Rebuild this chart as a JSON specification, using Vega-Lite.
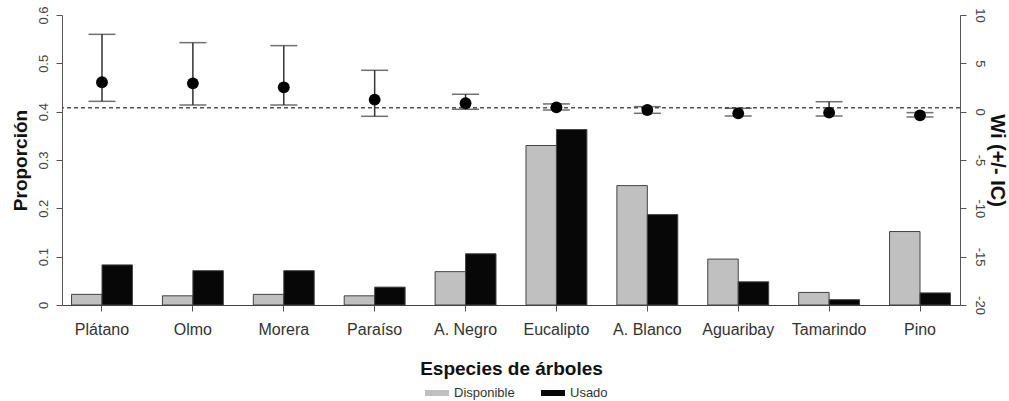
{
  "$schema": "https://vega.github.io/schema/vega-lite/v6.json",
  "width": 898,
  "height": 290,
  "autosize": {"type": "none"},
  "padding": {"left": 62, "top": 15, "right": 49, "bottom": 96},
  "background": "white",
  "config": {"view": {"stroke": null}, "font": "Liberation Sans"},
  "datasets": {
    "bars": [
      {"especie": "Plátano", "tipo": "Disponible", "prop": 0.022},
      {"especie": "Plátano", "tipo": "Usado", "prop": 0.083},
      {"especie": "Olmo", "tipo": "Disponible", "prop": 0.019},
      {"especie": "Olmo", "tipo": "Usado", "prop": 0.071},
      {"especie": "Morera", "tipo": "Disponible", "prop": 0.022},
      {"especie": "Morera", "tipo": "Usado", "prop": 0.071},
      {"especie": "Paraíso", "tipo": "Disponible", "prop": 0.019},
      {"especie": "Paraíso", "tipo": "Usado", "prop": 0.037},
      {"especie": "A. Negro", "tipo": "Disponible", "prop": 0.069},
      {"especie": "A. Negro", "tipo": "Usado", "prop": 0.106},
      {"especie": "Eucalipto", "tipo": "Disponible", "prop": 0.330},
      {"especie": "Eucalipto", "tipo": "Usado", "prop": 0.363},
      {"especie": "A. Blanco", "tipo": "Disponible", "prop": 0.247},
      {"especie": "A. Blanco", "tipo": "Usado", "prop": 0.187},
      {"especie": "Aguaribay", "tipo": "Disponible", "prop": 0.095},
      {"especie": "Aguaribay", "tipo": "Usado", "prop": 0.048},
      {"especie": "Tamarindo", "tipo": "Disponible", "prop": 0.026},
      {"especie": "Tamarindo", "tipo": "Usado", "prop": 0.011},
      {"especie": "Pino", "tipo": "Disponible", "prop": 0.152},
      {"especie": "Pino", "tipo": "Usado", "prop": 0.025}
    ],
    "wi": [
      {"especie": "Plátano", "wi": 3.04, "lo": 1.07, "hi": 8.0},
      {"especie": "Olmo", "wi": 2.93, "lo": 0.69, "hi": 7.14},
      {"especie": "Morera", "wi": 2.52, "lo": 0.69, "hi": 6.83},
      {"especie": "Paraíso", "wi": 1.24, "lo": -0.48, "hi": 4.28},
      {"especie": "A. Negro", "wi": 0.87, "lo": 0.25, "hi": 1.80},
      {"especie": "Eucalipto", "wi": 0.45, "lo": 0.17, "hi": 0.80},
      {"especie": "A. Blanco", "wi": 0.17, "lo": -0.17, "hi": 0.52},
      {"especie": "Aguaribay", "wi": -0.17, "lo": -0.45, "hi": 0.35},
      {"especie": "Tamarindo", "wi": -0.10, "lo": -0.45, "hi": 1.03},
      {"especie": "Pino", "wi": -0.38, "lo": -0.55, "hi": -0.10}
    ],
    "ref": [{"w": 0.4}]
  },
  "encoding": {
    "x": {
      "field": "especie",
      "type": "nominal",
      "sort": ["Plátano", "Olmo", "Morera", "Paraíso", "A. Negro", "Eucalipto", "A. Blanco", "Aguaribay", "Tamarindo", "Pino"],
      "scale": {"paddingInner": 0.33, "paddingOuter": 0.105},
      "title": "Especies de árboles",
      "axis": {
        "labelAngle": 0,
        "labelFontSize": 16,
        "labelColor": "#333",
        "labelPadding": 10,
        "tickSize": 6,
        "tickColor": "#555",
        "domainColor": "#444",
        "titleFontSize": 19,
        "titleFontWeight": "bold",
        "titleColor": "#111",
        "titlePadding": 22
      }
    }
  },
  "layer": [
    {
      "data": {"name": "bars"},
      "mark": {"type": "bar", "stroke": "#444", "strokeWidth": 1},
      "encoding": {
        "xOffset": {"field": "tipo", "type": "nominal", "sort": ["Disponible", "Usado"], "scale": {"paddingInner": 0, "paddingOuter": 0}},
        "y": {
          "field": "prop",
          "type": "quantitative",
          "title": "Proporción",
          "scale": {"domain": [0, 0.6], "nice": false},
          "axis": {
            "orient": "left",
            "values": [0, 0.1, 0.2, 0.3, 0.4, 0.5, 0.6],
            "labelExpr": "'' + datum.value",
            "labelAngle": 270,
            "labelFontSize": 13,
            "labelColor": "#444",
            "labelPadding": 6,
            "tickSize": 6,
            "tickColor": "#555",
            "domainColor": "#555",
            "grid": false,
            "titleFontSize": 19,
            "titleFontWeight": "bold",
            "titleColor": "#111",
            "titlePadding": 7
          }
        },
        "color": {
          "field": "tipo",
          "type": "nominal",
          "scale": {"domain": ["Disponible", "Usado"], "range": ["#c0c0c0", "#070707"]},
          "legend": {
            "orient": "none",
            "legendX": 363,
            "legendY": 366,
            "direction": "horizontal",
            "title": null,
            "symbolType": "M-1,-0.25H1V0.25H-1Z",
            "symbolSize": 576,
            "symbolStrokeWidth": 0,
            "labelFontSize": 13,
            "labelColor": "#333",
            "labelOffset": 5,
            "columnPadding": 26
          }
        }
      }
    },
    {
      "layer": [
        {
          "data": {"name": "ref"},
          "mark": {"type": "rule", "color": "#555", "strokeWidth": 1.5, "strokeDash": [4, 3]},
          "encoding": {
            "x": null,
            "y": {
              "field": "w",
              "type": "quantitative",
              "title": "Wi (+/- IC)",
              "scale": {"domain": [-20, 10], "nice": false, "zero": false},
              "axis": {
                "orient": "right",
                "values": [-20, -15, -10, -5, 0, 5, 10],
                "labelExpr": "'' + datum.value",
                "labelAngle": 90,
                "labelFontSize": 13,
                "labelColor": "#444",
                "labelPadding": 6,
                "tickSize": 6,
                "tickColor": "#555",
                "domainColor": "#555",
                "grid": false,
                "titleFontSize": 20,
                "titleFontWeight": "bold",
                "titleColor": "#111",
                "titlePadding": 1
              }
            }
          }
        },
        {
          "data": {"name": "wi"},
          "mark": {"type": "rule", "color": "#333", "strokeWidth": 1.5},
          "encoding": {
            "y": {"field": "lo", "type": "quantitative", "title": "Wi (+/- IC)"},
            "y2": {"field": "hi"}
          }
        },
        {
          "data": {"name": "wi"},
          "mark": {"type": "tick", "color": "#333", "size": 27, "thickness": 1.5},
          "encoding": {
            "y": {"field": "lo", "type": "quantitative", "title": "Wi (+/- IC)"}
          }
        },
        {
          "data": {"name": "wi"},
          "mark": {"type": "tick", "color": "#333", "size": 27, "thickness": 1.5},
          "encoding": {
            "y": {"field": "hi", "type": "quantitative", "title": "Wi (+/- IC)"}
          }
        },
        {
          "data": {"name": "wi"},
          "mark": {"type": "point", "filled": true, "color": "black", "opacity": 1, "size": 140, "shape": "circle"},
          "encoding": {
            "y": {"field": "wi", "type": "quantitative", "title": "Wi (+/- IC)"}
          }
        }
      ]
    }
  ],
  "resolve": {"scale": {"y": "independent"}}
}
